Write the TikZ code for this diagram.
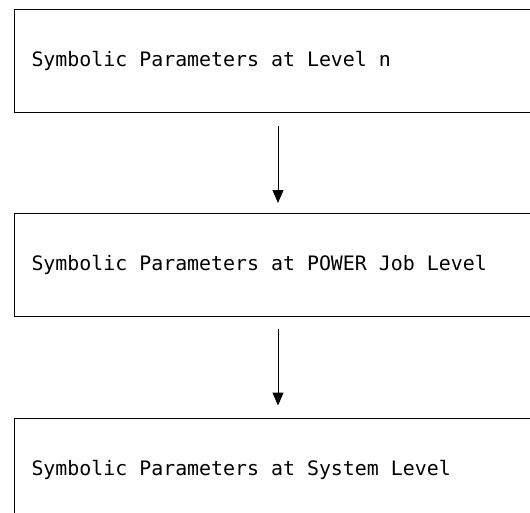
\documentclass[tikz,border=0pt]{standalone}
\usepackage{fontspec}
\setmonofont{DejaVu Sans Mono}
\usetikzlibrary{arrows.meta}

\begin{document}
\begin{tikzpicture}[x=1pt,y=-1pt,>={Triangle[length=13pt,width=11pt]}]
    \tikzstyle{level}=[draw=black, line width=1pt, rectangle, anchor=north west, minimum height=103pt, inner xsep=17pt, text width=560pt, align=flush left, font=\ttfamily\fontsize{19.9}{24}\selectfont]
    \tikzstyle{flow}=[->, line width=1pt]

    \useasboundingbox (0,0) rectangle (530,512);
    \clip (0,0) rectangle (530,512);

    \node[level] (n)   at (14,9)     {Symbolic Parameters at Level n};
    \node[level] (job) at (14,213)   {Symbolic Parameters at POWER Job Level};
    \node[level] (sys) at (14,417.5) {Symbolic Parameters at System Level};
    \coordinate  (axis) at (278,0);

    \path
     (n.south -| axis)   edge[flow, shorten <=13pt, shorten >=10pt] (job.north -| axis)
     (job.south -| axis) edge[flow, shorten <=12pt, shorten >=12pt] (sys.north -| axis)
     ;
\end{tikzpicture}
\end{document}
